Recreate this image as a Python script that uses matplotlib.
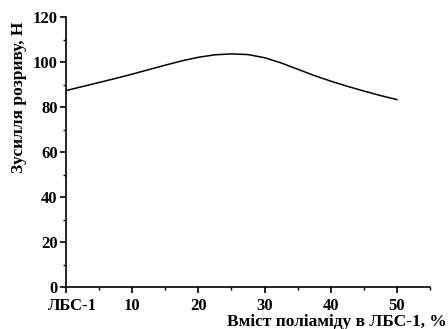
import matplotlib
matplotlib.use("Agg")
import matplotlib.pyplot as plt
import matplotlib.transforms as mtransforms
from matplotlib.ticker import MultipleLocator

x_vals = [0, 2.5, 5, 7.5, 10, 12.5, 15, 17.5, 20, 22.5, 25, 27.5, 30, 32.5, 35, 37.5, 40, 42.5, 45, 47.5, 50]
y_vals = [87.3, 89.1, 90.9, 92.7, 94.6, 96.6, 98.6, 100.5, 102.1, 103.2, 103.6, 103.3, 101.9, 99.6, 96.8, 94.0, 91.5, 89.2, 87.1, 85.1, 83.3]
xtick_pos = [0, 10, 20, 30, 40, 50]
xtick_labels = ["ЛБС-1", "10", "20", "30", "40", "50"]
ytick_pos = [0, 20, 40, 60, 80, 100, 120]

plt.rcParams['font.family'] = ['Liberation Serif', 'DejaVu Serif']
plt.rcParams['font.weight'] = 'bold'

fig = plt.figure(figsize=(4.48, 3.29), dpi=100)
ax = fig.add_axes([66/448, 1-287/329, (430-66)/448, (287-17)/329])
ax.plot(x_vals, y_vals, color='black', lw=1.1)
ax.set_xlim(0, 55)
ax.set_ylim(0, 120)
ax.spines['top'].set_visible(False)
ax.spines['right'].set_visible(False)
for s in ['left', 'bottom']:
    ax.spines[s].set_linewidth(1.2)
ax.set_xticks(xtick_pos)
ax.set_xticklabels(xtick_labels)
ax.set_yticks(ytick_pos)
ax.xaxis.set_minor_locator(MultipleLocator(5))
ax.yaxis.set_minor_locator(MultipleLocator(10))
ax.tick_params(which='major', direction='out', length=4, width=1.2, labelsize=12, pad=2)
ax.tick_params(axis='x', which='major', pad=4)
ax.tick_params(which='minor', direction='out', length=2.5, width=1.0)
for lab in ax.get_xticklabels() + ax.get_yticklabels():
    lab.set_fontweight('bold')
first = ax.get_xticklabels()[0]
first.set_transform(first.get_transform() + mtransforms.ScaledTranslation(6/100, 0, fig.dpi_scale_trans))
fig.text(447/448, 1-322/329, "Вміст поліаміду в ЛБС-1, %", ha='right', va='center', fontsize=12.5, fontweight='bold')
fig.text(19/448, 1-97/329, "Зусилля розриву, Н", ha='center', va='center', rotation=90, fontsize=12.5, fontweight='bold')
fig.savefig("out.png", dpi=100)
